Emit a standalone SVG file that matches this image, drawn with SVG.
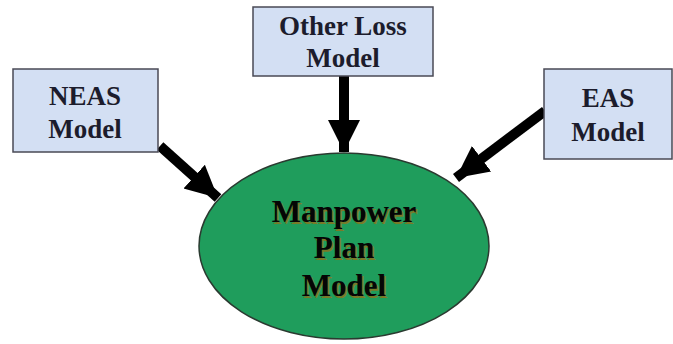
<svg xmlns="http://www.w3.org/2000/svg" width="673" height="344" viewBox="0 0 673 344">
<style>
.box{fill:#d3dff3;stroke:#4a4a55;stroke-width:1.5}
.bt{font-weight:bold;font-size:27px;fill:#1c1c2c;text-anchor:middle}
.et{font-weight:bold;font-size:31px;text-anchor:middle}
.sh{fill:#7a7a28}
.fg{fill:#050505}
.arr{stroke:#000;stroke-width:10;fill:none;marker-end:url(#ah)}
</style>
<defs>
<marker id="ah" markerUnits="userSpaceOnUse" markerWidth="34" markerHeight="34" refX="32" refY="17" orient="auto" viewBox="0 0 34 34">
<path d="M0,1 L32,17 L0,33 Z" fill="#000"/>
</marker>
</defs>
<g id="connectors">
<line class="arr" x1="160" y1="146" x2="218" y2="198"/>
<line class="arr" x1="344" y1="76" x2="344" y2="152"/>
<line class="arr" x1="545" y1="111" x2="456" y2="178"/>
</g>
<g font-family="Liberation Serif, Times New Roman, serif">
<g id="neas">
<rect class="box" x="13" y="69" width="145" height="83"/>
<text class="bt" x="85" y="105">NEAS</text>
<text class="bt" x="85" y="138">Model</text>
</g>
<g id="otherloss">
<rect class="box" x="253" y="7" width="180" height="69"/>
<text class="bt" x="343" y="35">Other Loss</text>
<text class="bt" x="343" y="67">Model</text>
</g>
<g id="eas">
<rect class="box" x="544" y="69" width="128" height="90"/>
<text class="bt" x="608" y="107">EAS</text>
<text class="bt" x="608" y="141">Model</text>
</g>
<g id="manpower">
<ellipse cx="344" cy="246" rx="145" ry="93" fill="#1f9d5c" stroke="#2a3a30" stroke-width="1.5"/>
<g class="et sh">
<text x="345.5" y="223.5">Manpower</text>
<text x="345.5" y="259.5">Plan</text>
<text x="345.5" y="297.5">Model</text>
</g>
<g class="et fg">
<text x="344" y="222">Manpower</text>
<text x="344" y="258">Plan</text>
<text x="344" y="296">Model</text>
</g>
</g>
</g>
</svg>
